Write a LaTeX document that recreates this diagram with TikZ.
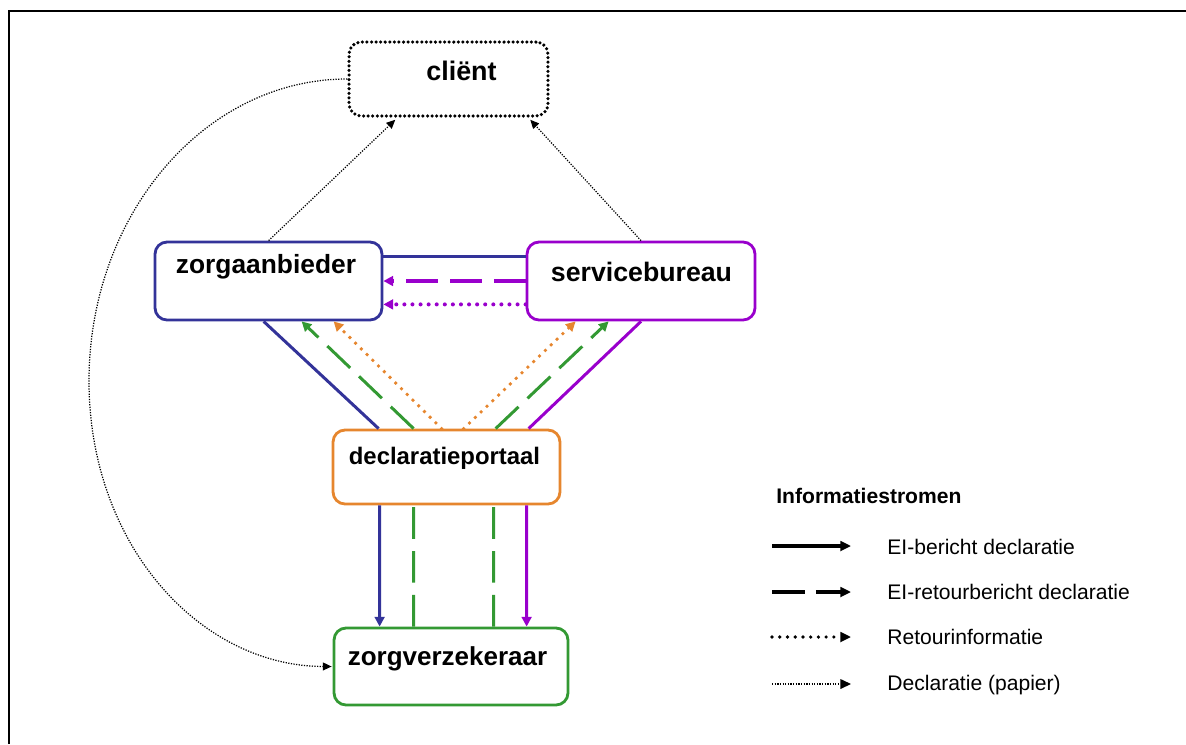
\documentclass[tikz,border=0pt]{standalone}
\usepackage{fontspec}
\setmainfont{Liberation Sans}
\usetikzlibrary{arrows.meta,calc}
\definecolor{zblue}{HTML}{333399}
\definecolor{zpurple}{HTML}{9900CC}
\definecolor{zorange}{HTML}{E6862E}
\definecolor{zgreen}{HTML}{339933}
\tikzset{
  box/.style={draw=#1, line width=1.6pt, rounded corners=0.24cm, fill=white, inner sep=0pt},
  lbl/.style={font=\fontsize{#1}{18}\bfseries\selectfont, anchor=base, inner sep=0pt},
  flow/.style={draw=#1, line width=1.7pt},
  tipbig/.style={-{Triangle[length=5.5pt,width=5.5pt]}},
  tipthin/.style={-{Triangle[length=5pt,width=4.5pt]}},
  dashedflow/.style={dash pattern=on 18pt off 7pt},
  dottedflow/.style={line cap=round, dash pattern=on 0pt off 4.6pt},
  thindot/.style={draw=black, line width=0.7pt, dash pattern=on 0.7pt off 0.8pt},
  legtxt/.style={font=\fontsize{12}{14}\selectfont, anchor=base west, inner sep=0pt},
}
\begin{document}
\begin{tikzpicture}[x=0.02cm, y=-0.02cm]
\useasboundingbox (0,0) rectangle (1186,744);
% frame
\draw[line width=1.1pt] (9,744) -- (9,11) -- (1186,11);

% boxes
\node[box=black, line width=2pt, line cap=round, dash pattern=on 0pt off 2.6pt, minimum width=3.98cm, minimum height=1.48cm] (cl) at (448.5,79) {};
\node[box=zblue, minimum width=4.54cm, minimum height=1.56cm] (za) at (268.5,281) {};
\node[box=zpurple, minimum width=4.56cm, minimum height=1.56cm] (sb) at (641,281) {};
\node[box=zorange, minimum width=4.54cm, minimum height=1.48cm] (dp) at (446.5,467) {};
\node[box=zgreen, minimum width=4.68cm, minimum height=1.54cm] (zv) at (451,666.5) {};

% client links
\draw[thindot, tipthin] ($(za.north west)+(115,0)$) -- ($(cl.south west)+(48,2)$);
\draw[thindot, tipthin] (sb.north) -- ($(cl.south west)+(183,2)$);
\draw[thindot, tipthin] (cl.west) .. controls +(-143,0) and (89,215) .. (89,381) .. controls (89,545) and (200,666) .. ($(zv.west)+(-1,0)$);

% horizontal between za and sb
\draw[flow=zblue] ($(za.north east)+(0,16)$) -- ($(sb.north west)+(0,16)$);
\draw[flow=zpurple, line width=2pt, dashedflow, tipbig] (sb.west) -- (za.east);
\draw[flow=zpurple, line width=2.3pt, dottedflow, tipbig] ($(sb.south west)+(0,-17)$) -- ($(za.south east)+(0,-17)$);

% diagonals left
\draw[flow=zblue] ($(za.south west)+(110,0)$) -- ($(dp.north west)+(47,0)$);
\draw[flow=zgreen, dashedflow, tipbig] ($(dp.north west)+(82,0)$) -- ($(za.south west)+(148,0)$);
\draw[flow=zorange, line width=2.2pt, dottedflow, tipbig] ($(dp.north west)+(110,0)$) -- ($(za.south west)+(180,0)$);
% diagonals right
\draw[flow=zorange, line width=2.2pt, dottedflow, tipbig] ($(dp.north west)+(132,0)$) -- ($(sb.south west)+(50,0)$);
\draw[flow=zgreen, dashedflow, tipbig] ($(dp.north west)+(164,0)$) -- ($(sb.south west)+(83,0)$);
\draw[flow=zpurple] (sb.south) -- ($(dp.north west)+(197,0)$);

% verticals
\draw[flow=zblue, tipbig] ($(dp.south west)+(48,0)$) -- ($(zv.north west)+(47,0)$);
\draw[flow=zgreen, dashedflow] ($(zv.north west)+(81,0)$) -- ($(dp.south west)+(82,0)$);
\draw[flow=zgreen, dashedflow] ($(zv.north west)+(161,0)$) -- ($(dp.south west)+(162,0)$);
\draw[flow=zpurple, tipbig] ($(dp.south west)+(195,0)$) -- ($(zv.north west)+(194,0)$);

% labels
\node[lbl=15.3] (clt) at (461.5,80) {cliënt};
\node[lbl=15] (zat) at (266,273) {zorgaanbieder};
\node[lbl=15.2] (sbt) at (641.5,281) {servicebureau};
\node[lbl=13.6] (dpt) at (444.5,464) {declaratieportaal};
\node[lbl=14.8] (zvt) at (447.5,665) {zorgverzekeraar};

% legend
\node[font=\fontsize{12}{14}\bfseries\selectfont, anchor=base west, inner sep=0pt] (lt) at (776,503) {Informatiestromen};
\coordinate (l1a) at (772,546); \coordinate (l1b) at (851,546);
\coordinate (l2a) at (772,592); \coordinate (l2b) at (851,592);
\coordinate (l3a) at (772,637); \coordinate (l3b) at (851,637);
\coordinate (l4a) at (772,684); \coordinate (l4b) at (851,684);
\draw[flow=black, line width=1.9pt, -{Triangle[length=6pt,width=5.5pt]}] (l1a) -- (l1b);
\draw[flow=black, line width=1.9pt, dash pattern=on 19pt off 6pt, -{Triangle[length=6pt,width=5.5pt]}] (l2a) -- (l2b);
\draw[flow=black, line width=2.1pt, line cap=round, dash pattern=on 0pt off 4.4pt, -{Triangle[length=6pt,width=5.5pt]}] (l3a) -- (l3b);
\draw[thindot, -{Triangle[length=6pt,width=5.5pt]}] (l4a) -- (l4b);
\node[legtxt] (t1) at (887,554) {EI-bericht declaratie};
\node[legtxt] (t2) at (887,599) {EI-retourbericht declaratie};
\node[legtxt] (t3) at (887,644) {Retourinformatie};
\node[legtxt] (t4) at (887,690) {Declaratie (papier)};
\end{tikzpicture}
\end{document}
